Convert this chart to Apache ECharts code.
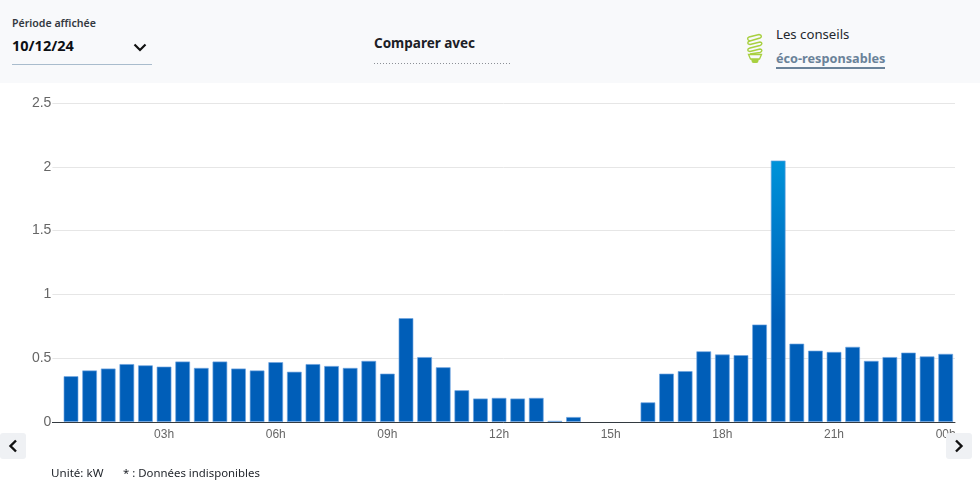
<!DOCTYPE html>
<html><head><meta charset="utf-8">
<style>
html,body{margin:0;padding:0;width:980px;height:484px;background:#fff;overflow:hidden;font-family:"Noto Sans",sans-serif;color:#1c2026}
#chart{position:absolute;left:0;top:0;width:980px;height:484px}
.t{position:absolute;white-space:nowrap;line-height:1}
#head{position:absolute;left:0;top:0;width:980px;height:83px;background:#f8f9fb}
.btn{position:absolute;top:433px;width:26px;height:26px;background:#eff1f4;border-radius:3px}
svg{position:absolute;overflow:visible}
</style></head><body>
<div id="chart"></div>
<div id="head">
  <div class="t" style="left:12px;top:18px;font-size:10.6px;font-weight:600;color:#33383f">Période affichée</div>
  <div class="t" style="left:12px;top:38px;font-size:14.5px;font-weight:700;color:#0c0f14">10/12/24</div>
  <svg style="left:133px;top:43px" width="14" height="10"><path d="M1.5 1.5L7 7L12.5 1.5" fill="none" stroke="#111" stroke-width="2.2"/></svg>
  <div style="position:absolute;left:12px;top:64px;width:140px;height:1px;background:#a9bccd"></div>
  <div class="t" style="left:374px;top:37px;font-size:13.5px;font-weight:700;color:#1c2026">Comparer avec</div>
  <svg style="left:374px;top:63px" width="138" height="1"><line x1="0" y1="0.5" x2="138" y2="0.5" stroke="#8c9096" stroke-width="1" stroke-dasharray="1 2"/></svg>
  <svg style="left:746px;top:33px" width="18" height="32" viewBox="0 0 18 32">
    <g fill="none" stroke="#a8d040" stroke-width="1.4">
      <path d="M3 4L13 1.5C16 2 16 4 14 5L4 8C1 9 1 11 4 11.5L14 9C16.5 9.5 16.5 11.5 14 12.5L4 15C1 16 1 18 4 18.5L14 16C16.5 16.5 16.5 18.5 14 19.5L4 21"/>
      <path d="M3 4C1 5 1 7 4 8"/>
    </g>
    <path d="M2.5 21.5H15.5L13.5 26H4.5Z" fill="none" stroke="#a8d040" stroke-width="1.3"/>
    <path d="M5 26H13L12 29.5Q9 30.5 6 29.5Z" fill="#a8d040"/>
  </svg>
  <div class="t" style="left:776px;top:28px;font-size:13.2px;color:#23272d">Les conseils</div>
  <div class="t" style="left:776px;top:52px;font-size:12.7px;font-weight:700;color:#6a8299">éco-responsables</div>
  <div style="position:absolute;left:776px;top:67px;width:109px;height:2px;background:#6a8299"></div>
</div>
<div class="t" style="left:51px;top:467px;font-size:11.6px;color:#23272d">Unité: kW</div>
<div class="t" style="left:123px;top:467px;font-size:11.4px;color:#23272d">* : Données indisponibles</div>
<div class="btn" style="left:0"><svg style="left:8px;top:6px" width="10" height="14"><path d="M8 1.5L2.5 7L8 12.5" fill="none" stroke="#111" stroke-width="2.4"/></svg></div>
<div class="btn" style="left:946px"><svg style="left:8px;top:6px" width="10" height="14"><path d="M2 1.5L7.5 7L2 12.5" fill="none" stroke="#111" stroke-width="2.4"/></svg></div>
<script src="https://cdn.jsdelivr.net/npm/echarts@6/dist/echarts.min.js"></script>
<script>
const halfHours=[1,2,3,4,5,6,7,8,9,10,11,12,13,14,15,16,17,18,19,20,21,22,23,24,25,26,27,28,29,30,31,32,33,34,35,36,37,38,39,40,41,42,43,44,45,46,47,48];
const power=[0.36,0.405,0.42,0.455,0.445,0.435,0.475,0.425,0.475,0.42,0.405,0.47,0.395,0.455,0.44,0.425,0.48,0.38,0.815,0.51,0.43,0.25,0.185,0.19,0.185,0.19,0.01,0.04,null,null,null,0.155,0.38,0.4,0.555,0.53,0.525,0.765,2.05,0.615,0.56,0.55,0.59,0.48,0.51,0.545,0.515,0.535];
const tickLabels={6:'03h',12:'06h',18:'09h',24:'12h',30:'15h',36:'18h',42:'21h',48:'00h'};
const chart=echarts.init(document.getElementById('chart'),null,{renderer:'canvas'});
chart.setOption({
  animation:false,
  grid:{left:52.4,right:25,top:103,bottom:62,containLabel:false},
  xAxis:{type:'value',min:0,max:48.5,interval:6,
    splitLine:{show:false},axisTick:{show:false},
    axisLine:{show:true,onZero:true,lineStyle:{color:'#333a40',width:1}},
    axisLabel:{showMaxLabel:false,margin:7,fontFamily:'Liberation Sans',fontSize:12,color:'#666',
      formatter:v=>tickLabels[v]||''}},
  yAxis:{type:'value',min:0,max:2.5,interval:0.5,
    splitLine:{show:true,lineStyle:{color:'#e6e6e6',width:1}},
    axisLine:{show:false},axisTick:{show:false},
    axisLabel:{margin:1,fontFamily:'Liberation Sans',fontSize:14,color:'#666',formatter:v=>String(v)}},
  series:[{type:'bar',barWidth:15,
    data:halfHours.map((h,i)=>[h,power[i]]),
    itemStyle:{
      color:{type:'linear',global:true,x:0,y:160,x2:0,y2:320,colorStops:[{offset:0,color:'#0093d9'},{offset:1,color:'#005eb8'}]},
      borderColor:'rgba(110,165,225,0.65)',borderWidth:1}}]
});
</script>
</body></html>
